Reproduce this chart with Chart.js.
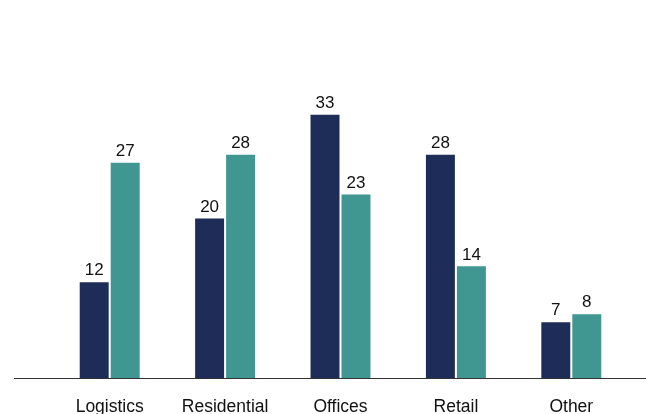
<!DOCTYPE html>
<html lang="en">
<head>
    <meta charset="UTF-8">
    <title>Sector Bar Chart</title>
    <script src="https://cdn.jsdelivr.net/npm/chart.js"></script>
    <style>
        body, html {
            margin: 0;
            padding: 0;
            width: 646px;
            height: 414px;
            overflow: hidden;
            background: #fff;
        }
        #wrap { width: 646px; height: 414px; }
    </style>
</head>
<body>
    <div id="wrap"><canvas id="sectorChart"></canvas></div>

    <script>
        const sectors = ["Logistics", "Residential", "Offices", "Retail", "Other"];
        const seriesA = [12, 20, 33, 28, 7];
        const seriesB = [27, 28, 23, 14, 8];

        const navy = 'rgb(30, 45, 88)';
        const teal = 'rgb(64, 150, 144)';
        const fontFamily = '"Liberation Sans", Arial, sans-serif';

        // value labels above each bar
        const valueLabels = {
            id: 'valueLabels',
            afterDatasetsDraw(chart) {
                const ctx = chart.ctx;
                ctx.save();
                ctx.font = '17px ' + fontFamily;
                ctx.fillStyle = '#111';
                ctx.textAlign = 'center';
                ctx.textBaseline = 'bottom';
                chart.data.datasets.forEach((ds, i) => {
                    chart.getDatasetMeta(i).data.forEach((bar, j) => {
                        ctx.fillText(ds.data[j], bar.x, bar.y - 3);
                    });
                });
                ctx.restore();
            }
        };

        // baseline running the full width
        const baseline = {
            id: 'baseline',
            afterDraw(chart) {
                const ctx = chart.ctx;
                const y = Math.round(chart.scales.y.getPixelForValue(0)) + 0.5;
                ctx.save();
                ctx.strokeStyle = '#333';
                ctx.lineWidth = 1;
                ctx.beginPath();
                ctx.moveTo(14, y);
                ctx.lineTo(646, y);
                ctx.stroke();
                ctx.restore();
            }
        };

        new Chart(document.getElementById('sectorChart'), {
            type: 'bar',
            data: {
                labels: sectors,
                datasets: [
                    { label: 'A', data: seriesA, backgroundColor: navy },
                    { label: 'B', data: seriesB, backgroundColor: teal }
                ]
            },
            options: {
                responsive: true,
                maintainAspectRatio: false,
                animation: false,
                layout: { padding: { left: 52, right: 17, top: 59, bottom: -23 } },
                datasets: { bar: { categoryPercentage: 0.537, barPercentage: 0.935 } },
                scales: {
                    x: {
                        grid: { display: false, drawTicks: false },
                        border: { display: false },
                        ticks: {
                            color: '#111',
                            padding: 19,
                            font: { family: fontFamily, size: 17.5 }
                        }
                    },
                    y: {
                        display: false,
                        min: 0,
                        max: 40
                    }
                },
                plugins: {
                    legend: { display: false },
                    tooltip: { enabled: false }
                }
            },
            plugins: [valueLabels, baseline]
        });
    </script>
</body>
</html>
